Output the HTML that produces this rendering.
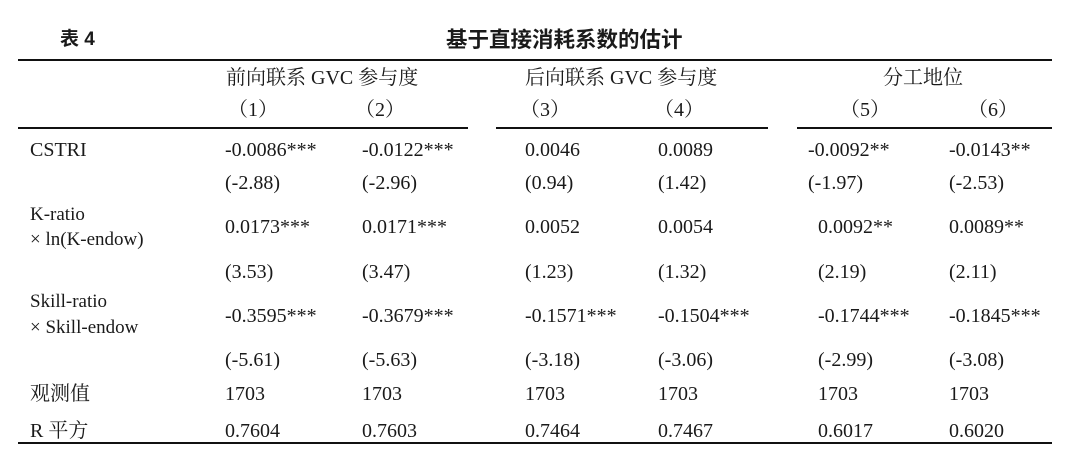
<!DOCTYPE html>
<html><head><meta charset="utf-8"><style>
body{margin:0;width:1080px;height:472px;background:#fff;position:relative;overflow:hidden;font-family:"Liberation Serif","Noto Serif CJK SC",serif;font-size:20px;color:#1a1a1a}
.t{position:absolute;white-space:nowrap;line-height:22px}
.s{font-family:"Liberation Sans","Noto Sans CJK SC",sans-serif;font-weight:bold}
.l{position:absolute;height:2px;background:#111}
</style></head><body>
<div class="t s" style="left:60px;top:29px;font-size:19px">表 4</div>
<div class="t s" style="left:446px;top:29px;font-size:21.5px">基于直接消耗系数的估计</div>
<div class="l" style="left:18px;top:59px;width:1034px"></div>
<div class="t" style="left:226px;top:67px">前向联系 GVC 参与度</div>
<div class="t" style="left:525px;top:67px">后向联系 GVC 参与度</div>
<div class="t" style="left:883px;top:67px">分工地位</div>
<div class="t" style="left:228px;top:99px">（1）</div>
<div class="t" style="left:355px;top:99px">（2）</div>
<div class="t" style="left:520px;top:99px">（3）</div>
<div class="t" style="left:654px;top:99px">（4）</div>
<div class="t" style="left:840px;top:99px">（5）</div>
<div class="t" style="left:968px;top:99px">（6）</div>
<div class="l" style="left:18px;top:127px;width:450px"></div>
<div class="l" style="left:496px;top:127px;width:272px"></div>
<div class="l" style="left:797px;top:127px;width:255px"></div>

<div class="t" style="left:30px;top:139px">CSTRI</div>
<div class="t" style="left:225px;top:139px">-0.0086***</div>
<div class="t" style="left:362px;top:139px">-0.0122***</div>
<div class="t" style="left:525px;top:139px">0.0046</div>
<div class="t" style="left:658px;top:139px">0.0089</div>
<div class="t" style="left:808px;top:139px">-0.0092**</div>
<div class="t" style="left:949px;top:139px">-0.0143**</div>

<div class="t" style="left:225px;top:172px">(-2.88)</div>
<div class="t" style="left:362px;top:172px">(-2.96)</div>
<div class="t" style="left:525px;top:172px">(0.94)</div>
<div class="t" style="left:658px;top:172px">(1.42)</div>
<div class="t" style="left:808px;top:172px">(-1.97)</div>
<div class="t" style="left:949px;top:172px">(-2.53)</div>

<div class="t" style="left:30px;top:204px;font-size:19px">K-ratio</div>
<div class="t" style="left:30px;top:229px;font-size:19px">× ln(K-endow)</div>
<div class="t" style="left:225px;top:216px">0.0173***</div>
<div class="t" style="left:362px;top:216px">0.0171***</div>
<div class="t" style="left:525px;top:216px">0.0052</div>
<div class="t" style="left:658px;top:216px">0.0054</div>
<div class="t" style="left:818px;top:216px">0.0092**</div>
<div class="t" style="left:949px;top:216px">0.0089**</div>

<div class="t" style="left:225px;top:261px">(3.53)</div>
<div class="t" style="left:362px;top:261px">(3.47)</div>
<div class="t" style="left:525px;top:261px">(1.23)</div>
<div class="t" style="left:658px;top:261px">(1.32)</div>
<div class="t" style="left:818px;top:261px">(2.19)</div>
<div class="t" style="left:949px;top:261px">(2.11)</div>

<div class="t" style="left:30px;top:291px;font-size:19px">Skill-ratio</div>
<div class="t" style="left:30px;top:317px;font-size:19px">× Skill-endow</div>
<div class="t" style="left:225px;top:305px">-0.3595***</div>
<div class="t" style="left:362px;top:305px">-0.3679***</div>
<div class="t" style="left:525px;top:305px">-0.1571***</div>
<div class="t" style="left:658px;top:305px">-0.1504***</div>
<div class="t" style="left:818px;top:305px">-0.1744***</div>
<div class="t" style="left:949px;top:305px">-0.1845***</div>

<div class="t" style="left:225px;top:349px">(-5.61)</div>
<div class="t" style="left:362px;top:349px">(-5.63)</div>
<div class="t" style="left:525px;top:349px">(-3.18)</div>
<div class="t" style="left:658px;top:349px">(-3.06)</div>
<div class="t" style="left:818px;top:349px">(-2.99)</div>
<div class="t" style="left:949px;top:349px">(-3.08)</div>

<div class="t" style="left:30px;top:383px">观测值</div>
<div class="t" style="left:225px;top:383px">1703</div>
<div class="t" style="left:362px;top:383px">1703</div>
<div class="t" style="left:525px;top:383px">1703</div>
<div class="t" style="left:658px;top:383px">1703</div>
<div class="t" style="left:818px;top:383px">1703</div>
<div class="t" style="left:949px;top:383px">1703</div>

<div class="t" style="left:30px;top:420px">R 平方</div>
<div class="t" style="left:225px;top:420px">0.7604</div>
<div class="t" style="left:362px;top:420px">0.7603</div>
<div class="t" style="left:525px;top:420px">0.7464</div>
<div class="t" style="left:658px;top:420px">0.7467</div>
<div class="t" style="left:818px;top:420px">0.6017</div>
<div class="t" style="left:949px;top:420px">0.6020</div>
<div class="l" style="left:18px;top:442px;width:1034px"></div>
</body></html>
